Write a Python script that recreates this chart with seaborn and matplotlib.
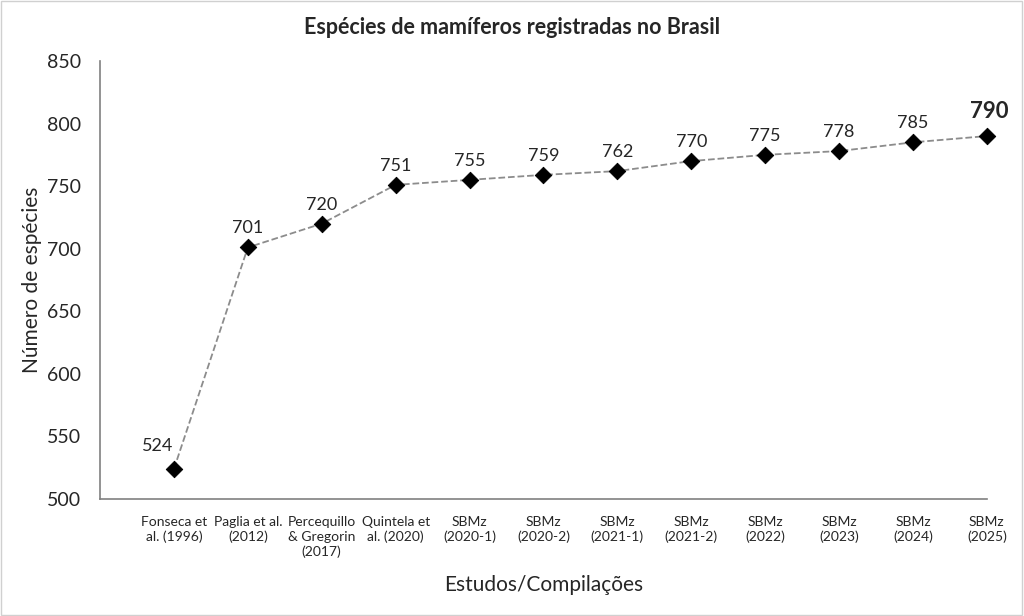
import matplotlib
matplotlib.use('Agg')
import matplotlib.pyplot as plt
import seaborn as sns
import pandas as pd
from matplotlib.patches import Rectangle

estudos = ['Fonseca et\nal. (1996)', 'Paglia et al.\n(2012)', 'Percequillo\n& Gregorin\n(2017)',
           'Quintela et\nal. (2020)', 'SBMz\n(2020-1)', 'SBMz\n(2020-2)', 'SBMz\n(2021-1)',
           'SBMz\n(2021-2)', 'SBMz\n(2022)', 'SBMz\n(2023)', 'SBMz\n(2024)', 'SBMz\n(2025)']
especies = [524, 701, 720, 751, 755, 759, 762, 770, 775, 778, 785, 790]
y_ticks = [500, 550, 600, 650, 700, 750, 800, 850]

df = pd.DataFrame({'pos': range(len(estudos)), 'especies': especies})

sns.set_style('white')
plt.rcParams['font.family'] = ['Lato', 'DejaVu Sans']

fig = plt.figure(figsize=(10.24, 6.16), dpi=100)
ax = fig.add_axes([0.0977, 0.19, 0.866, 0.711])

sns.lineplot(data=df, x='pos', y='especies', ax=ax, color='#8c8c8c',
             linestyle='--', linewidth=1.3, zorder=2)
sns.scatterplot(data=df, x='pos', y='especies', ax=ax, marker='D', color='black',
                s=70, edgecolor='black', zorder=3, clip_on=False)

for i, v in enumerate(especies):
    if i == 0:
        ax.annotate(str(v), (i, v), xytext=(-12, 11), textcoords='offset points',
                    ha='center', va='bottom', fontsize=13)
    elif i == len(especies) - 1:
        ax.annotate(str(v), (i, v), xytext=(2, 10), textcoords='offset points',
                    ha='center', va='bottom', fontsize=16, fontweight='bold')
    else:
        ax.annotate(str(v), (i, v), xytext=(0, 8), textcoords='offset points',
                    ha='center', va='bottom', fontsize=13)

ax.set_xlim(-1, 11)
ax.set_ylim(500, 850)
ax.set_yticks(y_ticks)
ax.set_yticklabels([str(t) for t in y_ticks], fontsize=14)
ax.set_xticks(range(len(estudos)))
ax.set_xticklabels(estudos, fontsize=10, linespacing=1.3)
ax.tick_params(axis='both', direction='in', length=5, color='#808080', width=1.2)
ax.tick_params(axis='y', pad=13.5)
ax.tick_params(axis='x', pad=12)

for side in ['top', 'right']:
    ax.spines[side].set_visible(False)
for side in ['left', 'bottom']:
    ax.spines[side].set_color('#808080')
    ax.spines[side].set_linewidth(1.2)

ax.set_xlabel('Estudos/Compilações', fontsize=15, labelpad=12)
ax.set_ylabel('Número de espécies', fontsize=15, labelpad=4)
fig.text(0.5, 0.955, 'Espécies de mamíferos registradas no Brasil', ha='center', va='center',
         fontsize=15.5, fontweight='bold')

fig.patches.append(Rectangle((0.001, 0.002), 0.997, 0.996, transform=fig.transFigure,
                             fill=False, edgecolor='#d0d0d0', linewidth=1))

fig.savefig('out.png', dpi=100)
